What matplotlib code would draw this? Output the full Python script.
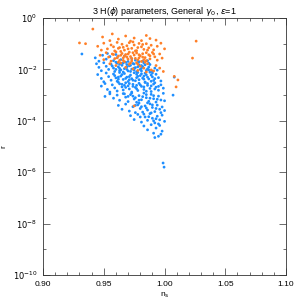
import matplotlib
matplotlib.use("Agg")
import matplotlib.pyplot as plt
import numpy as np
from matplotlib.ticker import FixedLocator, MultipleLocator, NullFormatter

# points: (n_s, log10 r)
blue_ns = [
    0.932, 0.943, 0.946, 0.949, 0.952, 0.955, 0.958, 0.961, 0.964, 0.967, 0.970, 0.973, 0.976, 0.979, 0.953, 0.960, 0.982, 0.986,
    0.944, 0.946, 0.948, 0.950, 0.952, 0.954, 0.956, 0.958, 0.959, 0.961, 0.962, 0.964, 0.965, 0.967, 0.968, 0.970, 0.971, 0.973,
    0.974, 0.976, 0.977, 0.979, 0.980, 0.982, 0.983, 0.985, 0.987, 0.988, 0.990, 0.992, 0.994, 0.963, 0.969, 0.975, 0.981, 0.957,
    0.986, 0.978,
    0.945, 0.948, 0.950, 0.952, 0.954, 0.956, 0.958, 0.960, 0.961, 0.963, 0.964, 0.966, 0.967, 0.969, 0.970, 0.972, 0.973, 0.975,
    0.976, 0.978, 0.979, 0.981, 0.982, 0.984, 0.985, 0.987, 0.988, 0.990, 0.991, 0.993, 0.995, 0.997, 1.008, 0.962, 0.971, 0.977,
    0.983, 0.989,
    0.948, 0.951, 0.953, 0.955, 0.957, 0.959, 0.961, 0.963, 0.965, 0.966, 0.968, 0.970, 0.971, 0.973, 0.974, 0.976, 0.978, 0.979,
    0.981, 0.983, 0.984, 0.986, 0.988, 0.989, 0.991, 0.993, 0.995, 0.997, 0.999, 0.967, 0.977, 0.985, 0.992,
    0.951, 0.955, 0.958, 0.961, 0.963, 0.966, 0.968, 0.970, 0.972, 0.975, 0.977, 0.979, 0.981, 0.983, 0.985, 0.987, 0.989, 0.991,
    0.993, 0.995, 0.997, 0.999, 1.000, 1.007, 0.974, 0.986,
    0.962, 0.965, 0.968, 0.971, 0.974, 0.976, 0.978, 0.980, 0.982, 0.984, 0.986, 0.988, 0.990, 0.992, 0.994, 0.996, 0.998, 1.000,
    0.979, 0.989,
    0.972, 0.975, 0.978, 0.981, 0.984, 0.986, 0.988, 0.990, 0.992, 0.994, 0.996, 0.998, 1.000, 0.983, 0.993,
    0.983, 0.986, 0.989, 0.991, 0.993, 0.995, 0.996, 0.998, 0.992, 0.997,
    0.9988, 0.9996,
    # denser core
    0.960, 0.963, 0.966, 0.969, 0.972, 0.975, 0.978, 0.981, 0.984, 0.987,
    0.960, 0.963, 0.966, 0.969, 0.972, 0.975, 0.978, 0.981, 0.984, 0.987, 0.990,
    0.959, 0.962, 0.965, 0.968, 0.971, 0.974, 0.977, 0.980, 0.983, 0.986, 0.989, 0.992,
    0.962, 0.965, 0.968, 0.971, 0.974, 0.977, 0.980, 0.983, 0.986, 0.989, 0.992, 0.995,
    0.967, 0.970, 0.973, 0.976, 0.979, 0.982, 0.985, 0.988, 0.991, 0.994,
    0.976, 0.981, 0.985, 0.990, 0.993, 0.997,
    0.980, 0.987, 0.991, 0.995,
]
blue_logr = [
    -1.40, -1.55, -1.68, -1.45, -1.60, -1.50, -1.66, -1.54, -1.62, -1.48, -1.69, -1.58, -1.64, -1.70, -1.38, -1.42, -1.68, -1.66,
    -1.78, -1.92, -2.05, -1.74, -1.88, -2.00, -1.80, -1.95, -2.08, -1.76, -1.90, -2.02, -1.84, -1.97, -1.72, -2.06, -1.86, -1.99,
    -1.77, -1.93, -2.09, -1.82, -2.00, -1.89, -1.75, -2.04, -1.91, -1.81, -2.07, -1.95, -2.03, -1.96, -1.81, -2.02, -1.96, -1.87,
    -1.98, -1.90,
    -2.20, -2.35, -2.48, -2.14, -2.28, -2.42, -2.18, -2.33, -2.46, -2.12, -2.26, -2.39, -2.16, -2.30, -2.47, -2.22, -2.36, -2.13,
    -2.44, -2.27, -2.40, -2.17, -2.34, -2.49, -2.21, -2.37, -2.11, -2.29, -2.43, -2.19, -2.32, -2.45, -2.30, -2.38, -2.40, -2.19,
    -2.26, -2.46,
    -2.65, -2.55, -2.78, -2.88, -2.60, -2.72, -2.84, -2.56, -2.68, -2.80, -2.52, -2.64, -2.76, -2.88, -2.58, -2.70, -2.82, -2.54,
    -2.66, -2.78, -2.51, -2.62, -2.74, -2.86, -2.57, -2.69, -2.81, -2.60, -2.73, -2.62, -2.62, -2.85, -2.52,
    -3.05, -2.95, -3.12, -3.00, -3.20, -2.94, -3.08, -3.25, -2.98, -3.15, -3.28, -3.02, -3.18, -2.92, -3.10, -3.24, -2.97, -3.14,
    -3.27, -3.04, -3.19, -2.93, -3.22, -3.00, -3.04, -3.30,
    -3.40, -3.55, -3.35, -3.62, -3.45, -3.68, -3.38, -3.52, -3.66, -3.42, -3.58, -3.34, -3.48, -3.64, -3.39, -3.55, -3.46, -3.60,
    -3.31, -3.69,
    -3.80, -3.95, -3.75, -4.05, -3.85, -3.98, -3.72, -3.90, -4.08, -3.82, -3.96, -3.78, -4.02, -3.74, -3.92,
    -4.20, -4.35, -4.15, -4.48, -4.28, -4.60, -4.18, -4.40, -4.65, -4.52,
    -5.64, -5.80,
    -1.72, -1.80, -1.75, -1.90, -1.84, -1.79, -1.73, -1.85, -1.82, -1.76,
    -2.00, -2.05, -2.10, -2.00, -2.08, -1.95, -2.12, -2.06, -2.15, -2.02, -2.14,
    -2.24, -2.30, -2.20, -2.35, -2.28, -2.42, -2.32, -2.24, -2.38, -2.30, -2.22, -2.36,
    -2.50, -2.58, -2.70, -2.55, -2.66, -2.75, -2.60, -2.68, -2.55, -2.64, -2.76, -2.66,
    -2.95, -3.05, -2.92, -3.10, -3.20, -3.06, -2.98, -3.12, -3.02, -3.16,
    -3.40, -3.45, -3.50, -3.38, -3.52, -3.68,
    -3.85, -3.84, -4.00, -4.12,
]

orange_ns = [
    0.941, 0.949, 0.957, 0.968, 0.930, 0.935, 1.026, 0.962, 0.975, 0.981, 0.988, 0.993, 0.972, 0.955, 0.985,
    0.945, 0.950, 0.953, 0.956, 0.959, 0.961, 0.963, 0.965, 0.967, 0.969, 0.971, 0.973, 0.975, 0.977, 0.979, 0.981, 0.983, 0.985,
    0.987, 0.989, 0.991, 0.994, 0.997, 1.000, 0.958, 0.966, 0.974, 0.982, 0.948,
    0.947, 0.950, 0.952, 0.954, 0.956, 0.957, 0.959, 0.960, 0.962, 0.963, 0.965, 0.966, 0.967, 0.968, 0.970, 0.971, 0.972, 0.973,
    0.975, 0.976, 0.977, 0.978, 0.980, 0.981, 0.982, 0.984, 0.985, 0.987, 0.988, 0.990, 0.992, 0.994, 0.996, 0.998, 1.023, 0.964,
    0.969, 0.974, 0.979, 0.983,
    0.955, 0.960, 0.964, 0.968, 0.971, 0.974, 0.977, 0.980, 0.983, 0.986, 0.989, 0.991, 0.993, 0.996, 0.999, 0.985, 0.978, 0.962,
    1.011, 1.0095, 0.975, 1.008,
    0.958, 0.961, 0.964, 0.967, 0.970, 0.973, 0.976, 0.979, 0.982, 0.985, 0.988, 0.991, 0.966, 0.972, 0.978, 0.984,
    0.962, 0.970, 0.978, 0.986,
]
orange_logr = [
    -0.43, -0.74, -0.62, -0.70, -0.97, -1.00, -0.90, -0.82, -0.78, -0.88, -0.80, -0.86, -0.90, -0.88, -0.68,
    -1.10, -0.98, -1.20, -1.05, -1.28, -0.95, -1.15, -1.02, -1.25, -1.08, -0.96, -1.18, -1.05, -1.27, -0.99, -1.12, -1.22, -1.00,
    -1.16, -1.06, -1.24, -1.10, -0.98, -1.20, -1.12, -1.14, -0.93, -1.03, -1.25,
    -1.45, -1.62, -1.35, -1.52, -1.68, -1.40, -1.58, -1.32, -1.48, -1.65, -1.38, -1.55, -1.70, -1.42, -1.60, -1.33, -1.50, -1.67,
    -1.44, -1.57, -1.36, -1.63, -1.47, -1.69, -1.39, -1.54, -1.66, -1.43, -1.59, -1.34, -1.51, -1.64, -1.40, -1.56, -1.56, -1.45,
    -1.52, -1.35, -1.55, -1.62,
    -1.78, -1.85, -1.75, -1.92, -1.80, -1.98, -1.74, -1.88, -1.95, -1.78, -2.02, -2.06, -1.85, -1.95, -2.08, -2.10, -2.04, -1.72,
    -2.41, -2.68, -3.42, -2.27,
    -1.42, -1.55, -1.30, -1.48, -1.40, -1.58, -1.28, -1.43, -1.52, -1.35, -1.47, -1.40, -1.65, -1.75, -1.80, -1.72,
    -1.18, -1.20, -1.15, -1.25,
]

blue_r = 10.0 ** np.array(blue_logr)
orange_r = 10.0 ** np.array(orange_logr)

plt.rcParams["font.family"] = ["Liberation Sans", "DejaVu Sans"]
plt.rcParams["mathtext.fontset"] = "dejavusans"

fig = plt.figure(figsize=(3.05, 3.05), dpi=100)
ax = fig.add_axes([0.141, 0.098, 0.797, 0.843])

ax.scatter(blue_ns, blue_r, s=4, color="#1e8fff", edgecolors="none")
ax.scatter(orange_ns, orange_r, s=4, color="#ff7f27", edgecolors="none")

ax.set_yscale("log")
ax.set_xlim(0.90, 1.10)
ax.set_ylim(1e-10, 1e0)

x_major = [0.90, 0.95, 1.00, 1.05, 1.10]
ax.xaxis.set_major_locator(FixedLocator(x_major))
ax.xaxis.set_minor_locator(MultipleLocator(0.01))
ax.set_xticklabels(["%.2f" % v for v in x_major])

major_y = [10.0 ** k for k in range(-10, 1, 2)]
minor_y = [10.0 ** k for k in range(-9, 0, 2)]
ax.yaxis.set_major_locator(FixedLocator(major_y))
ax.yaxis.set_minor_locator(FixedLocator(minor_y))
ax.yaxis.set_minor_formatter(NullFormatter())
ax.set_yticklabels([r"$10^{%d}$" % k for k in range(-10, 1, 2)])

ax.tick_params(which="both", direction="in", top=True, right=True,
               labelsize=6, width=0.5, color="#333333")
ax.tick_params(which="major", length=5, pad=4)
ax.tick_params(which="minor", length=2.5)
for sp in ax.spines.values():
    sp.set_linewidth(0.6)
    sp.set_color("#333333")

ax.set_title(r"3 H($\phi$) parameters, General $\gamma_0$, $\epsilon$=1",
             fontsize=6.5, pad=3)
ax.set_xlabel(r"n$_\mathrm{s}$", fontsize=6, labelpad=2)
ax.set_ylabel("r", fontsize=6, labelpad=4)

fig.savefig("out.png", dpi=100)
